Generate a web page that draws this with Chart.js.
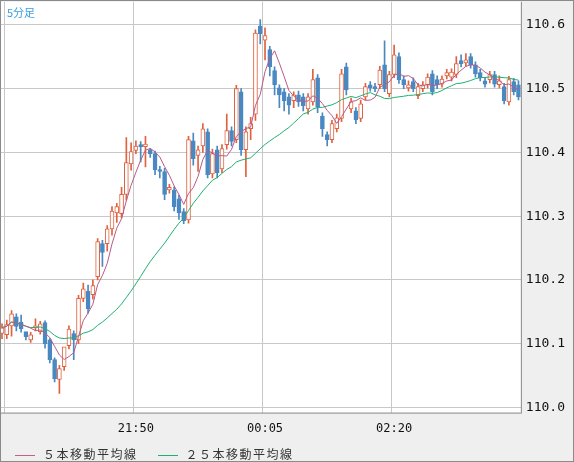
<!DOCTYPE html>
<html><head><meta charset="utf-8">
<script src="https://cdn.jsdelivr.net/npm/chart.js@4"></script>
<style>
html,body{margin:0;padding:0;background:#efefef;}
#wrap{position:relative;width:574px;height:462px;box-sizing:border-box;border:1px solid #8a8a8a;background:#efefef;overflow:hidden}
canvas{position:absolute;left:-8px;top:-12px}
#title{position:absolute;left:6px;top:3px;font:11px "Noto Sans CJK JP";color:#3a9ee0}
#legend{position:absolute;left:14px;top:444px;font:12px "Noto Sans CJK JP";color:#333;letter-spacing:1.5px}
#legend span.l{display:inline-block;width:20px;height:1px;vertical-align:middle;margin-right:8px}
</style></head><body>
<div id="wrap"><canvas id="c" width="585" height="480"></canvas>
<div id="title">5分足</div>
<div id="legend"><span class="l" style="background:#c0608a"></span>５本移動平均線<span style="display:inline-block;width:20px"></span><span class="l" style="background:#20b070"></span>２５本移動平均線</div>
</div>
<script>
const startTime = '19:30';
const tickLabels = ['19:35','21:50','00:05','02:20'];
const shownTickLabels = ['21:50','00:05','02:20'];
const opens = [110.116,110.114,110.128,110.142,110.134,110.119,110.106,110.125,110.119,110.133,110.106,110.075,110.044,110.064,110.097,110.116,110.106,110.171,110.182,110.177,110.205,110.257,110.257,110.280,110.305,110.304,110.334,110.382,110.403,110.412,110.409,110.404,110.398,110.373,110.370,110.341,110.341,110.327,110.307,110.294,110.418,110.395,110.410,110.432,110.366,110.404,110.374,110.412,110.434,110.420,110.495,110.404,110.437,110.460,110.598,110.576,110.561,110.528,110.501,110.495,110.487,110.481,110.490,110.487,110.468,110.479,110.517,110.457,110.428,110.420,110.437,110.453,110.534,110.468,110.465,110.453,110.487,110.506,110.503,110.506,110.537,110.492,110.522,110.550,110.514,110.501,110.511,110.489,110.500,110.506,110.523,110.514,110.507,110.520,110.518,110.522,110.544,110.540,110.550,110.537,110.525,110.512,110.514,110.522,110.506,110.503,110.479,110.511,110.506];
const closes = [110.125,110.130,110.147,110.127,110.123,110.111,110.114,110.128,110.131,110.100,110.075,110.045,110.061,110.095,110.123,110.106,110.171,110.186,110.155,110.191,110.260,110.243,110.280,110.308,110.315,110.334,110.384,110.401,110.410,110.409,110.413,110.398,110.373,110.370,110.334,110.345,110.315,110.305,110.293,110.420,110.390,110.404,110.437,110.365,110.398,110.368,110.406,110.434,110.417,110.500,110.404,110.432,110.445,110.587,110.586,110.583,110.534,110.506,110.490,110.481,110.474,110.490,110.479,110.473,110.487,110.514,110.471,110.437,110.420,110.445,110.454,110.523,110.498,110.479,110.451,110.476,110.503,110.501,110.500,110.529,110.500,110.522,110.553,110.514,110.506,110.506,110.500,110.503,110.506,110.518,110.495,110.506,110.515,110.525,110.526,110.539,110.539,110.545,110.537,110.523,110.517,110.507,110.522,110.507,110.512,110.481,110.514,110.495,110.487];
const highs = [110.131,110.137,110.152,110.147,110.145,110.115,110.118,110.139,110.135,110.136,110.108,110.078,110.066,110.070,110.128,110.120,110.176,110.195,110.192,110.200,110.265,110.262,110.285,110.315,110.320,110.345,110.423,110.415,110.418,110.417,110.425,110.406,110.402,110.378,110.375,110.350,110.346,110.333,110.312,110.425,110.430,110.410,110.445,110.437,110.405,110.410,110.412,110.460,110.440,110.505,110.500,110.440,110.455,110.592,110.608,110.595,110.566,110.534,110.506,110.500,110.492,110.495,110.496,110.492,110.492,110.530,110.522,110.462,110.432,110.450,110.460,110.530,110.540,110.485,110.470,110.482,110.508,110.511,110.508,110.535,110.575,110.527,110.568,110.556,110.520,110.512,110.517,110.508,110.511,110.523,110.528,110.520,110.520,110.530,110.531,110.550,110.553,110.555,110.555,110.542,110.530,110.517,110.527,110.527,110.520,110.508,110.519,110.516,110.512];
const lows = [110.108,110.108,110.112,110.120,110.118,110.106,110.102,110.120,110.115,110.093,110.070,110.040,110.022,110.058,110.092,110.075,110.100,110.166,110.148,110.170,110.200,110.221,110.245,110.270,110.290,110.297,110.325,110.372,110.398,110.385,110.377,110.392,110.365,110.360,110.326,110.336,110.308,110.295,110.288,110.289,110.380,110.370,110.400,110.360,110.360,110.360,110.368,110.405,110.410,110.415,110.395,110.362,110.420,110.450,110.570,110.545,110.520,110.490,110.470,110.465,110.460,110.470,110.472,110.465,110.460,110.474,110.462,110.425,110.410,110.415,110.432,110.448,110.490,110.462,110.445,110.448,110.482,110.496,110.495,110.500,110.495,110.487,110.517,110.508,110.500,110.496,110.495,110.484,110.495,110.501,110.490,110.500,110.502,110.515,110.512,110.517,110.534,110.535,110.532,110.518,110.512,110.502,110.509,110.502,110.501,110.476,110.474,110.490,110.482];
const yTicks = [110.0,110.1,110.2,110.3,110.4,110.5,110.6];

const n = closes.length;
const cats = [];
{let [h,m]=startTime.split(':').map(Number); for(let i=0;i<n;i++){cats.push(String(h).padStart(2,'0')+':'+String(m).padStart(2,'0')); m+=5; if(m>=60){m-=60;h=(h+1)%24;}}}
function ma(p){return closes.map((_,i)=>{const s=Math.max(0,i-p+1);const a=closes.slice(s,i+1);return a.reduce((x,y)=>x+y,0)/a.length;});}
const UP='#e0623e', DN='#4a88c2';
const isUp = closes.map((c,i)=>c>=opens[i]);
const bg={id:'bg',beforeDraw(ch){const{ctx,chartArea:a}=ch;ctx.save();ctx.fillStyle='#ffffff';ctx.fillRect(a.left,a.top,a.right-a.left,a.bottom-a.top);ctx.restore();},
afterDraw(ch){const{ctx,chartArea:a}=ch;ctx.save();ctx.strokeStyle='#8a8a8a';ctx.lineWidth=1;ctx.beginPath();ctx.moveTo(a.left+0.5,a.top);ctx.lineTo(a.left+0.5,a.bottom);ctx.moveTo(a.right+0.5,a.top);ctx.lineTo(a.right+0.5,a.bottom+1);ctx.moveTo(a.left,a.bottom+0.5);ctx.lineTo(a.right,a.bottom+0.5);ctx.stroke();ctx.restore();}};
new Chart(document.getElementById('c'),{
 data:{labels:cats,datasets:[
  {type:'line',label:'５本移動平均線',data:ma(5),borderColor:'#b85a8a',borderWidth:1,pointRadius:0,order:0},
  {type:'line',label:'２５本移動平均線',data:ma(25),borderColor:'#20b070',borderWidth:1,pointRadius:0,order:0},
  {type:'bar',data:closes.map((c,i)=>[opens[i],c]),backgroundColor:isUp.map(u=>u?'#ffffff':DN),borderColor:isUp.map(u=>u?UP:DN),borderWidth:1,borderSkipped:false,barThickness:4,grouped:false,order:1},
  {type:'bar',data:highs.map((h,i)=>[lows[i],h]),backgroundColor:isUp.map(u=>u?UP:DN),borderWidth:0,barThickness:1,grouped:false,order:2}
 ]},
 options:{responsive:false,animation:false,
  layout:{padding:{left:0,right:8,top:0,bottom:24}},
  plugins:{legend:{display:false},tooltip:{enabled:false}},
  scales:{
   x:{grid:{color:ctx=>tickLabels.includes(cats[ctx.index])?'#c8c8c8':'rgba(0,0,0,0)',drawTicks:false},border:{display:false},
      ticks:{autoSkip:false,maxRotation:0,padding:9,color:'#111',font:{family:'DejaVu Sans Mono',size:12},callback:(v,i)=>shownTickLabels.includes(cats[i])?cats[i]:''}},
   y:{position:'right',min:109.992,max:110.636,grid:{color:'#c8c8c8',drawTicks:false},border:{display:false},
      afterBuildTicks:ax=>{ax.ticks=yTicks.map(v=>({value:v}));},
      ticks:{padding:5,color:'#111',font:{family:'DejaVu Sans Mono',size:13},callback:v=>Number(v).toFixed(1)}}
  }},
 plugins:[bg]});
</script></body></html>
